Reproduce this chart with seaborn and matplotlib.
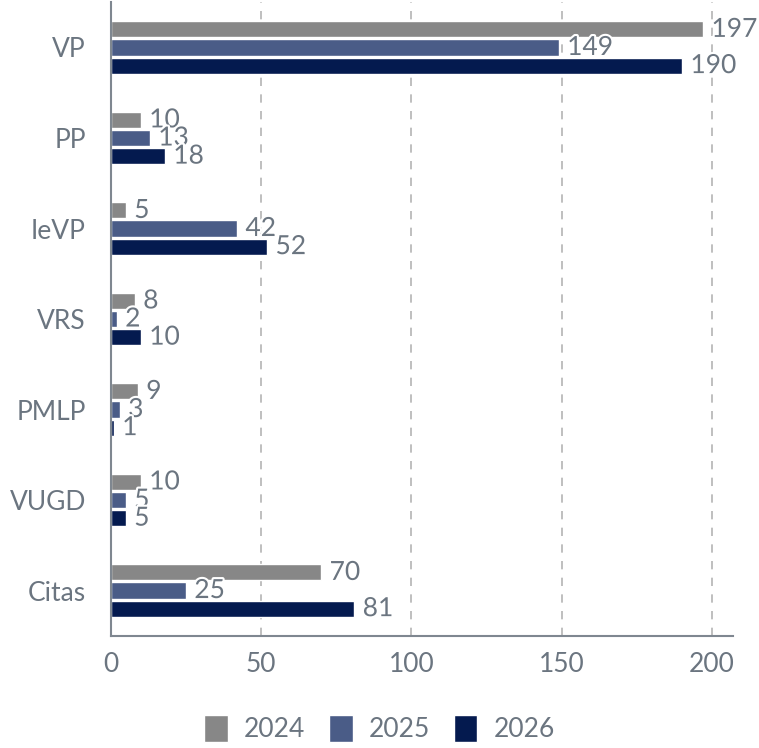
import pandas as pd
import matplotlib.pyplot as plt
import matplotlib.patheffects as pe
import seaborn as sns

# -------------------------------
# Data
# -------------------------------
categories = ["VP", "PP", "IeVP", "VRS", "PMLP", "VUGD", "Citas"]
years = ["2024", "2025", "2026"]
values_2024 = [197, 10, 5, 8, 9, 10, 70]
values_2025 = [149, 13, 42, 2, 3, 5, 25]
values_2026 = [190, 18, 52, 10, 1, 5, 81]

df = pd.DataFrame({
    "category": categories * 3,
    "year": [y for y in years for _ in categories],
    "value": values_2024 + values_2025 + values_2026,
})

palette = {"2024": "#878787", "2025": "#4a5c87", "2026": "#041a4f"}
text_color = "#6b7580"
grid_color = "#b4b4b4"
fs = 19

# -------------------------------
# Plot
# -------------------------------
sns.set_style("white")
plt.rcParams['font.family'] = ['Lato', 'DejaVu Sans']

fig = plt.figure(figsize=(7.59, 7.48), dpi=100)
ax = fig.add_axes([0.146, 0.150, 0.820, 0.847])

sns.barplot(data=df, y="category", x="value", hue="year", orient="h",
            palette=palette, width=0.6, gap=0.11, saturation=1,
            order=categories, hue_order=years, ax=ax, legend=True)

for cont in ax.containers:
    labels = ax.bar_label(cont, padding=6, fontsize=fs, color=text_color)
    for t in labels:
        t.set_path_effects([pe.withStroke(linewidth=3, foreground="white")])

ax.set_xlim(0, 207)
ax.set_ylim(6.5, -0.5)
ax.set_xticks([0, 50, 100, 150, 200])
ax.xaxis.grid(True, linestyle=(0, (5, 5)), color=grid_color, linewidth=1.2)
ax.set_axisbelow(True)
ax.set_xlabel("")
ax.set_ylabel("")

for s in ["top", "right"]:
    ax.spines[s].set_visible(False)
for s in ["left", "bottom"]:
    ax.spines[s].set_color("#7f8790")
    ax.spines[s].set_linewidth(1.5)

ax.tick_params(axis="y", length=0, pad=18, labelsize=fs, labelcolor=text_color)
ax.tick_params(axis="x", length=0, pad=12, labelsize=fs, labelcolor=text_color)

handles, lbls = ax.get_legend_handles_labels()
ax.get_legend().remove()
fig.legend(handles, lbls, loc="lower center", ncol=3, frameon=False,
           bbox_to_anchor=(0.5, -0.024), fontsize=fs, labelcolor=text_color,
           handlelength=0.9, handleheight=1.2, handletextpad=0.6, columnspacing=0.9)

fig.savefig("out.png", dpi=100)
